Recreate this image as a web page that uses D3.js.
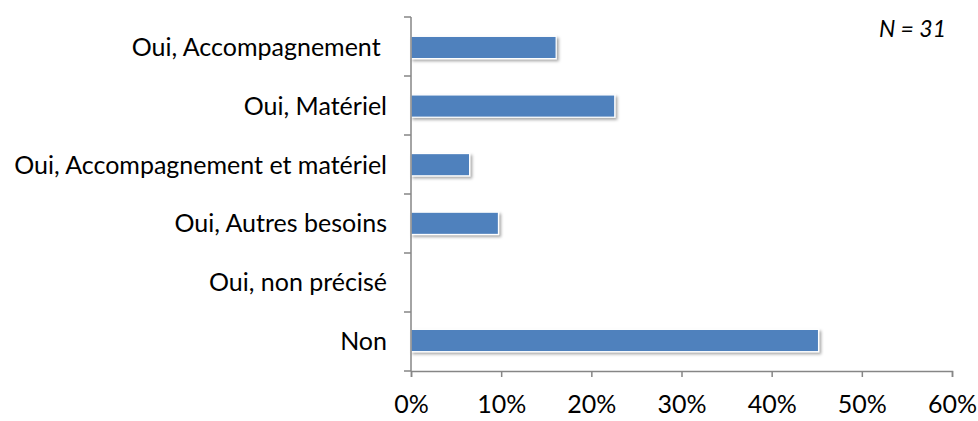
<!DOCTYPE html>
<html>
<head>
<meta charset="utf-8">
<script src="https://cdn.jsdelivr.net/npm/d3@7"></script>
<style>
  body { margin: 0; background: #fff; }
  text { font-family: Lato, "Open Sans", sans-serif; fill: #000; }
</style>
</head>
<body>
<svg id="chart" width="978" height="421"></svg>
<script>
// categories top to bottom, share of respondents (N = 31)
var categories = ["Oui, Accompagnement ", "Oui, Matériel", "Oui, Accompagnement et matériel", "Oui, Autres besoins", "Oui, non précisé", "Non"];
var values = [0.161, 0.226, 0.065, 0.097, 0, 0.452];
var xTicks = [0, 0.1, 0.2, 0.3, 0.4, 0.5, 0.6];
var note = "N = 31";

var svg = d3.select("#chart");
var plotLeft = 411, plotRight = 952, plotTop = 17, plotBottom = 371;
var fontSize = "25px";

var x = d3.scaleLinear().domain([0, 0.6]).range([plotLeft, plotRight]);
var y = d3.scaleBand().domain(categories).range([plotTop, plotBottom]).paddingInner(0.62).paddingOuter(0.33);

var defs = svg.append("defs");
var shadow = defs.append("filter").attr("id", "shadow")
  .attr("x", "-5%").attr("y", "-30%").attr("width", "115%").attr("height", "180%");
shadow.append("feDropShadow")
  .attr("dx", 2).attr("dy", 2).attr("stdDeviation", 1.6)
  .attr("flood-color", "#000").attr("flood-opacity", 0.35);

// bars
svg.append("g").selectAll("rect")
  .data(categories)
  .enter().filter(function (d, i) { return values[i] > 0; })
  .append("rect")
  .attr("x", x(0))
  .attr("y", function (d) { return y(d); })
  .attr("width", function (d) { return x(values[categories.indexOf(d)]) - x(0); })
  .attr("height", y.bandwidth())
  .attr("fill", "#4f81bd")
  .attr("stroke", "#fff")
  .attr("stroke-width", 1.2)
  .attr("filter", "url(#shadow)");

// y axis line + category separators
var axisColor = "#868686";
svg.append("line")
  .attr("x1", plotLeft).attr("x2", plotLeft)
  .attr("y1", plotTop).attr("y2", plotBottom)
  .attr("stroke", axisColor).attr("stroke-width", 1.5);

var step = (plotBottom - plotTop) / categories.length;
svg.append("g").selectAll("line")
  .data(d3.range(categories.length + 1))
  .enter().append("line")
  .attr("x1", plotLeft - 7).attr("x2", plotLeft)
  .attr("y1", function (i) { return plotTop + i * step; })
  .attr("y2", function (i) { return plotTop + i * step; })
  .attr("stroke", axisColor).attr("stroke-width", 1.5);

// x axis
var xAxis = d3.axisBottom(x)
  .tickValues(xTicks)
  .tickSize(6)
  .tickFormat(d3.format(".0%"));

var gx = svg.append("g")
  .attr("transform", "translate(0," + plotBottom + ")")
  .call(xAxis);
gx.select(".domain").attr("stroke", axisColor).attr("stroke-width", 1.5);
gx.selectAll(".tick line").attr("stroke", axisColor).attr("stroke-width", 1.5);
gx.selectAll(".tick text")
  .attr("y", 42)
  .attr("dy", 0)
  .style("font-size", fontSize)
  .style("font-family", "Lato, sans-serif")
  .attr("fill", "#000");

// category labels
svg.append("g").selectAll("text")
  .data(categories)
  .enter().append("text")
  .attr("x", 387)
  .attr("y", function (d) { return y(d) + y.bandwidth() / 2; })
  .attr("dy", "0.36em")
  .attr("text-anchor", "end")
  .attr("xml:space", "preserve")
  .style("font-size", fontSize)
  .text(function (d) { return d; });

svg.append("text")
  .attr("x", 946)
  .attr("y", 37)
  .attr("text-anchor", "end")
  .style("font-size", "23px")
  .style("font-style", "italic")
  .text(note);
</script>
</body>
</html>
